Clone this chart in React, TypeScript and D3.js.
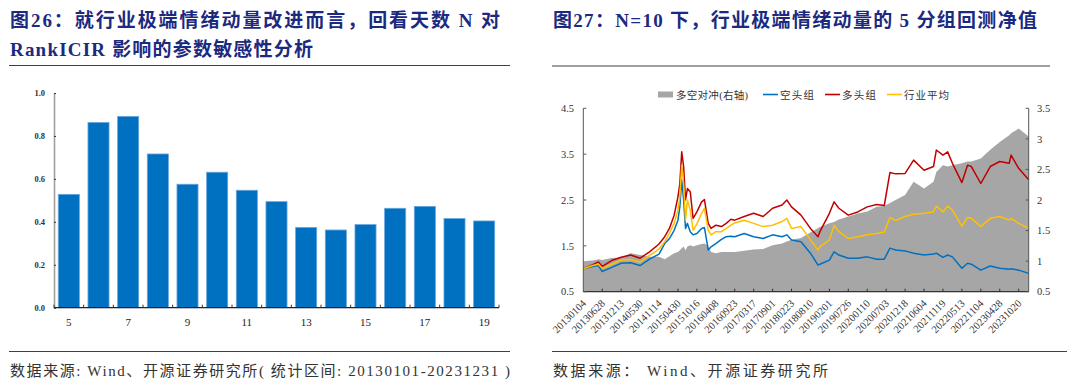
import React, { useEffect, useRef } from 'react';
import * as d3 from 'd3';

// ---- fig 26: RankICIR vs look-back days N ----
const lookback = [5, 6, 7, 8, 9, 10, 11, 12, 13, 14, 15, 16, 17, 18, 19];
const rankIcir = [0.528, 0.863, 0.891, 0.716, 0.575, 0.631, 0.547, 0.494, 0.374, 0.362, 0.387, 0.463, 0.472, 0.415, 0.404];
const icirTicks = [0, 0.2, 0.4, 0.6, 0.8, 1.0];

// ---- fig 27: quintile backtest net value, N=10 ----
const dateLabels = [
  '20130104', '20130628', '20131213', '20140530', '20141114', '20150430', '20151016', '20160408',
  '20160923', '20170317', '20170901', '20180223', '20180810', '20190201', '20190726', '20200110',
  '20200703', '20201218', '20210604', '20211119', '20220513', '20221104', '20230428', '20231020',
];
// sample position, measured in label periods (0 = 20130104)
const tPos = [
  0, 0.5, 0.8, 1, 1.5, 2, 2.5, 3, 3.5, 4, 4.3, 4.55, 4.8, 5, 5.1, 5.2, 5.3, 5.4, 5.5, 5.65, 5.8, 6, 6.25, 6.4, 6.6, 6.75, 7, 7.3, 7.55, 7.8,
  8, 8.5, 9, 9.5, 10, 10.5, 10.75, 11, 11.5, 12, 12.4, 12.5, 13, 13.25, 13.5, 14, 14.5, 15, 15.5,
  15.9, 16.2, 16.5, 17, 17.45, 18, 18.5, 18.65, 19, 19.25, 19.5, 20, 20.3, 20.5, 21, 21.5, 22, 22.5, 22.6, 23, 23.53,
];
const hedge = [
  1.00, 1.01, 1.03, 1.02, 1.05, 1.06, 1.13, 1.10, 1.07, 1.07, 1.03, 1.08, 1.13, 1.15, 1.18, 1.21, 1.24, 1.18, 1.24, 1.26, 1.24, 1.26, 1.28, 1.29, 1.24, 1.15, 1.13, 1.15, 1.15, 1.15,
  1.15, 1.17, 1.19, 1.20, 1.26, 1.29, 1.32, 1.35, 1.38, 1.47, 1.54, 1.56, 1.62, 1.64, 1.68, 1.73, 1.78, 1.81, 1.89,
  1.90, 1.95, 2.00, 2.08, 2.30, 2.19, 2.30, 2.46, 2.57, 2.55, 2.57, 2.60, 2.63, 2.63, 2.68, 2.82, 2.95, 3.06, 3.09, 3.17, 3.04,
];
const shortGrp = [
  1.00, 1.05, 1.07, 0.94, 1.03, 1.12, 1.13, 1.07, 1.21, 1.32, 1.55, 1.66, 1.84, 2.06, 2.35, 2.94, 2.50, 1.88, 1.99, 1.81, 1.74, 1.77, 1.88, 1.90, 1.41, 1.48, 1.55, 1.64, 1.70, 1.71,
  1.70, 1.77, 1.70, 1.66, 1.74, 1.70, 1.74, 1.63, 1.59, 1.34, 1.08, 1.10, 1.19, 1.37, 1.30, 1.23, 1.23, 1.26, 1.21,
  1.21, 1.45, 1.41, 1.39, 1.34, 1.30, 1.32, 1.34, 1.25, 1.30, 1.26, 1.01, 1.12, 1.10, 0.97, 1.06, 1.01, 0.99, 1.00, 0.97, 0.90,
];
const longGrp = [
  1.00, 1.09, 1.15, 1.05, 1.18, 1.25, 1.30, 1.23, 1.37, 1.54, 1.70, 1.88, 2.17, 2.57, 2.86, 3.55, 3.23, 2.50, 2.75, 2.68, 2.10, 2.24, 2.46, 2.51, 1.99, 1.88, 1.95, 1.92, 1.99, 2.08,
  2.06, 2.14, 2.21, 2.14, 2.32, 2.39, 2.50, 2.35, 2.17, 1.88, 1.70, 1.81, 2.21, 2.46, 2.32, 2.17, 2.24, 2.35, 2.40,
  2.38, 3.10, 3.07, 3.08, 3.37, 3.15, 3.23, 3.59, 3.48, 3.55, 3.30, 2.88, 3.26, 3.23, 2.86, 3.23, 3.34, 3.30, 3.48, 3.19, 2.94,
];
const avgGrp = [
  1.00, 1.07, 1.10, 1.01, 1.10, 1.19, 1.20, 1.15, 1.29, 1.43, 1.59, 1.77, 1.99, 2.28, 2.57, 3.26, 2.86, 2.06, 2.50, 2.28, 1.84, 1.98, 2.21, 2.32, 1.84, 1.74, 1.81, 1.81, 1.88, 1.95,
  2.00, 2.06, 1.99, 1.92, 1.95, 2.03, 2.10, 1.88, 1.92, 1.63, 1.41, 1.48, 1.63, 1.95, 1.81, 1.66, 1.70, 1.74, 1.77,
  1.80, 2.12, 2.05, 2.14, 2.19, 2.21, 2.24, 2.37, 2.24, 2.37, 2.28, 1.93, 2.12, 2.10, 1.92, 2.10, 2.14, 2.06, 2.10, 1.99, 1.88,
];
const leftTicks = [0.5, 1.5, 2.5, 3.5, 4.5];
const rightTicks = [0.5, 1, 1.5, 2, 2.5, 3, 3.5];

const navy = '#1b2a80';
const serif = "'Liberation Serif','Times New Roman','Noto Sans CJK SC',serif";

const App = () => {
  const svgRef = useRef(null);

  useEffect(() => {
    const svg = d3.select(svgRef.current);
    svg.selectAll('*').remove();

    // headers + rules
    const title = (x, y, str, len) =>
      svg.append('text')
        .attr('x', x).attr('y', y)
        .attr('fill', navy)
        .attr('font-family', serif)
        .attr('font-weight', 'bold')
        .attr('font-size', 19)
        .attr('textLength', len)
        .attr('lengthAdjust', 'spacing')
        .text(str);
    title(10, 27, '图26：就行业极端情绪动量改进而言，回看天数 N 对', 490);
    title(10, 56, 'RankICIR 影响的参数敏感性分析', 303);
    title(553, 27, '图27：N=10 下，行业极端情绪动量的 5 分组回测净值', 484);

    const rule = (x1, x2, y) =>
      svg.append('line').attr('x1', x1).attr('x2', x2).attr('y1', y).attr('y2', y)
        .attr('stroke', '#404040').attr('stroke-width', 1);
    rule(9, 510, 65.5);
    rule(552, 1050, 66);
    rule(9, 510, 351.5);
    rule(552, 1067, 351.5);

    const source = (x, str, len) =>
      svg.append('text')
        .attr('x', x).attr('y', 376)
        .attr('fill', '#333')
        .attr('font-family', serif)
        .attr('font-size', 15)
        .attr('textLength', len)
        .attr('lengthAdjust', 'spacing')
        .text(str);
    source(10, '数据来源: Wind、开源证券研究所( 统计区间: 20130101-20231231 )', 500);
    source(553, '数据来源：  Wind、开源证券研究所', 275);

    // ---------- left: bar chart ----------
    const xBand = d3.scaleBand()
      .domain(lookback.map(String))
      .range([54, 499])
      .paddingInner(0.29)
      .paddingOuter(0.145);
    const yIcir = d3.scaleLinear().domain([0, 1]).range([307.7, 93]);

    svg.append('g')
      .selectAll('rect')
      .data(rankIcir)
      .enter()
      .append('rect')
      .attr('x', (d, i) => xBand(String(lookback[i])))
      .attr('y', (d) => yIcir(d))
      .attr('width', xBand.bandwidth())
      .attr('height', (d) => yIcir(0) - yIcir(d))
      .attr('fill', '#0070c0')
      .attr('stroke', '#6aa6dc')
      .attr('stroke-width', 0.8);

    // y axis
    const gy = svg.append('g')
      .attr('transform', 'translate(54,0)')
      .call(d3.axisLeft(yIcir).tickValues(icirTicks).tickSize(-2).tickSizeOuter(0).tickPadding(9).tickFormat(d3.format('.1f')));
    gy.select('.domain').attr('stroke', '#a0a0a0').attr('stroke-width', 1.6);
    gy.selectAll('line').attr('stroke', '#333');
    gy.selectAll('text').attr('font-family', serif).attr('font-size', 8.5).attr('font-weight', 'bold').attr('fill', '#333');

    // x axis
    svg.append('line')
      .attr('x1', 54).attr('x2', 499).attr('y1', yIcir(0)).attr('y2', yIcir(0))
      .attr('stroke', '#222').attr('stroke-width', 1.2);
    svg.append('g')
      .selectAll('line')
      .data(d3.range(lookback.length + 1))
      .enter()
      .append('line')
      .attr('x1', (i) => 54 + i * xBand.step())
      .attr('x2', (i) => 54 + i * xBand.step())
      .attr('y1', yIcir(0))
      .attr('y2', yIcir(0) - 3)
      .attr('stroke', '#333');
    svg.append('g')
      .selectAll('text')
      .data(lookback.filter((d) => d % 2 === 1))
      .enter()
      .append('text')
      .attr('x', (d) => xBand(String(d)) + xBand.bandwidth() / 2)
      .attr('y', 326)
      .attr('text-anchor', 'middle')
      .attr('font-family', serif)
      .attr('font-size', 11)
      .attr('fill', '#222')
      .text((d) => d);

    // ---------- right: net value chart ----------
    const xT = d3.scaleLinear().domain([0, 23.53]).range([583.3, 1028.7]);
    const yL = d3.scaleLinear().domain([0.5, 4.5]).range([291.7, 108.3]);
    const yR = d3.scaleLinear().domain([0.5, 3.5]).range([291.7, 108.3]);

    const area = d3.area()
      .x((d, i) => xT(tPos[i]))
      .y0(yR(0.5))
      .y1((d) => yR(d));
    svg.append('path')
      .datum(hedge)
      .attr('fill', '#a6a6a6')
      .attr('d', area);

    const line = d3.line()
      .x((d, i) => xT(tPos[i]))
      .y((d) => yL(d));
    const series = [
      { vals: shortGrp, color: '#0070c0' },
      { vals: longGrp, color: '#c00000' },
      { vals: avgGrp, color: '#ffc000' },
    ];
    series.forEach((s) => {
      svg.append('path')
        .datum(s.vals)
        .attr('fill', 'none')
        .attr('stroke', s.color)
        .attr('stroke-width', 1.5)
        .attr('stroke-linejoin', 'round')
        .attr('d', line);
    });

    // axes frame
    const axisColor = '#555';
    svg.append('line').attr('x1', 583.3).attr('x2', 583.3).attr('y1', 108.3).attr('y2', 291.7).attr('stroke', axisColor);
    svg.append('line').attr('x1', 1028.7).attr('x2', 1028.7).attr('y1', 108.3).attr('y2', 291.7).attr('stroke', axisColor);
    svg.append('line').attr('x1', 583.3).attr('x2', 1028.7).attr('y1', 291.7).attr('y2', 291.7).attr('stroke', '#333').attr('stroke-width', 1.2);

    // left ticks
    const gl = svg.append('g');
    gl.selectAll('line').data(leftTicks).enter().append('line')
      .attr('x1', 583.3).attr('x2', 586.3)
      .attr('y1', (d) => yL(d)).attr('y2', (d) => yL(d))
      .attr('stroke', axisColor);
    gl.selectAll('text').data(leftTicks).enter().append('text')
      .attr('x', 574).attr('y', (d) => yL(d)).attr('dy', '0.35em')
      .attr('text-anchor', 'end')
      .attr('font-family', serif).attr('font-size', 10.5).attr('fill', '#333')
      .text((d) => d3.format('.1f')(d));

    // right ticks
    const gr = svg.append('g');
    gr.selectAll('line').data(rightTicks).enter().append('line')
      .attr('x1', 1025.7).attr('x2', 1028.7)
      .attr('y1', (d) => yR(d)).attr('y2', (d) => yR(d))
      .attr('stroke', axisColor);
    gr.selectAll('text').data(rightTicks).enter().append('text')
      .attr('x', 1037).attr('y', (d) => yR(d)).attr('dy', '0.35em')
      .attr('font-family', serif).attr('font-size', 10.5).attr('fill', '#333')
      .text((d) => String(d));

    // bottom ticks + rotated date labels
    const gb = svg.append('g');
    gb.selectAll('line').data(d3.range(1, dateLabels.length)).enter().append('line')
      .attr('x1', (i) => xT(i)).attr('x2', (i) => xT(i))
      .attr('y1', 291.7).attr('y2', 288.7)
      .attr('stroke', '#333');
    gb.selectAll('text').data(dateLabels).enter().append('text')
      .attr('transform', (d, i) => `translate(${xT(i) + 3.5},304) rotate(-45)`)
      .attr('text-anchor', 'end')
      .attr('font-family', serif).attr('font-size', 10.5).attr('fill', '#333')
      .text((d) => d);

    // legend
    const legend = svg.append('g').attr('font-family', serif).attr('font-size', 10.5).attr('fill', '#333');
    legend.append('rect').attr('x', 658).attr('y', 91.5).attr('width', 15).attr('height', 6).attr('fill', '#a6a6a6');
    legend.append('text').attr('x', 676).attr('y', 98.5).attr('textLength', 72).attr('lengthAdjust', 'spacing').text('多空对冲(右轴)');
    const legendLines = [
      { x: 763, color: '#0070c0', label: '空头组', len: 34 },
      { x: 825, color: '#c00000', label: '多头组', len: 34 },
      { x: 887, color: '#ffc000', label: '行业平均', len: 45 },
    ];
    legendLines.forEach((l) => {
      legend.append('line').attr('x1', l.x).attr('x2', l.x + 15).attr('y1', 94.5).attr('y2', 94.5)
        .attr('stroke', l.color).attr('stroke-width', 1.6);
      legend.append('text').attr('x', l.x + 17).attr('y', 98.5)
        .attr('textLength', l.len).attr('lengthAdjust', 'spacing').text(l.label);
    });
  }, []);

  return (
    <svg
      ref={svgRef}
      width={1080}
      height={386}
      style={{ position: 'absolute', left: 0, top: 0, background: '#fff' }}
    ></svg>
  );
};

export default App;
